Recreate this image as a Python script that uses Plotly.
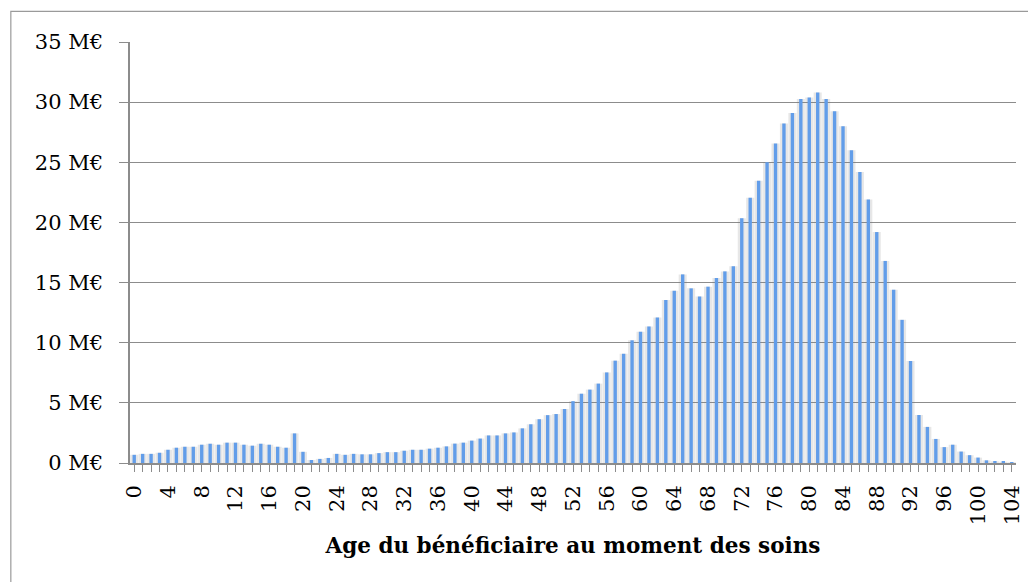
import plotly.graph_objects as go

# Age of the beneficiary (0..104) and amount in M€
ages = list(range(105))
montants = [
    0.68, 0.76, 0.76, 0.85, 1.10, 1.27, 1.35, 1.35, 1.52, 1.60,
    1.52, 1.69, 1.69, 1.52, 1.44, 1.60, 1.52, 1.35, 1.27, 2.46,
    0.93, 0.25, 0.34, 0.42, 0.76, 0.68, 0.76, 0.72, 0.72, 0.82,
    0.90, 0.90, 1.02, 1.10, 1.10, 1.19, 1.27, 1.38, 1.61, 1.69,
    1.86, 2.03, 2.29, 2.29, 2.46, 2.54, 2.88, 3.22, 3.64, 3.98,
    4.07, 4.49, 5.14, 5.76, 6.10, 6.60, 7.53, 8.51, 9.08, 10.20,
    10.92, 11.35, 12.10, 13.55, 14.32, 15.68, 14.52, 13.84, 14.66, 15.37,
    15.93, 16.36, 20.35, 22.05, 23.47, 25.00, 26.56, 28.23, 29.10, 30.27,
    30.38, 30.80, 30.27, 29.25, 28.00, 26.00, 24.20, 21.90, 19.20, 16.80,
    14.40, 11.90, 8.48, 3.99, 3.00, 2.00, 1.32, 1.52, 0.95, 0.65,
    0.45, 0.22, 0.14, 0.11, 0.06,
]
tick_labels = [str(a) if a % 4 == 0 else "" for a in ages]
y_ticks = [0, 5, 10, 15, 20, 25, 30, 35]

font_serif = "DejaVu Serif, Liberation Serif, serif"
grey = "#8c8c8c"

# soft grey shadow behind the bars
shadow = go.Bar(x=ages, y=montants, width=0.95, hoverinfo="skip",
                marker=dict(color="rgba(120,120,120,0.18)", line=dict(width=0)))
bars = go.Bar(x=ages, y=montants, width=0.4, name="",
              marker=dict(color="#629de9", line=dict(width=0)))

# the page body has an 8px margin, so the figure is a bit smaller than the window
layout = go.Layout(
    width=1028, height=574,
    margin=dict(l=122, r=14, t=34, b=119),
    paper_bgcolor="white", plot_bgcolor="white",
    showlegend=False, barmode="overlay",
    font=dict(family=font_serif, size=21, color="black"),
    xaxis=dict(range=[-0.5, 104.5], tickvals=ages, ticktext=tick_labels,
               tickangle=-90, ticks="outside", ticklen=7, tickcolor=grey,
               ticklabelstandoff=5,
               showline=True, linecolor=grey, linewidth=1.5,
               showgrid=False, zeroline=False,
               title=dict(text="<b>Age du bénéficiaire au moment des soins</b>",
                          font=dict(size=21.5), standoff=14)),
    yaxis=dict(range=[0, 35], tickvals=y_ticks,
               ticktext=["%d M€" % v for v in y_ticks],
               ticks="outside", ticklen=9, tickcolor=grey,
               ticklabelstandoff=12,
               showline=True, linecolor=grey, linewidth=1.5,
               showgrid=True, gridcolor=grey, gridwidth=1.2, zeroline=False),
    shapes=[dict(type="rect", xref="paper", yref="paper",
                 x0=-0.1345, x1=1.05, y0=-0.4, y1=1.0726,
                 line=dict(color="#9a9a9a", width=1.2))],
)

fig = go.Figure(data=[shadow, bars], layout=layout)
fig.write_html("out.html")
